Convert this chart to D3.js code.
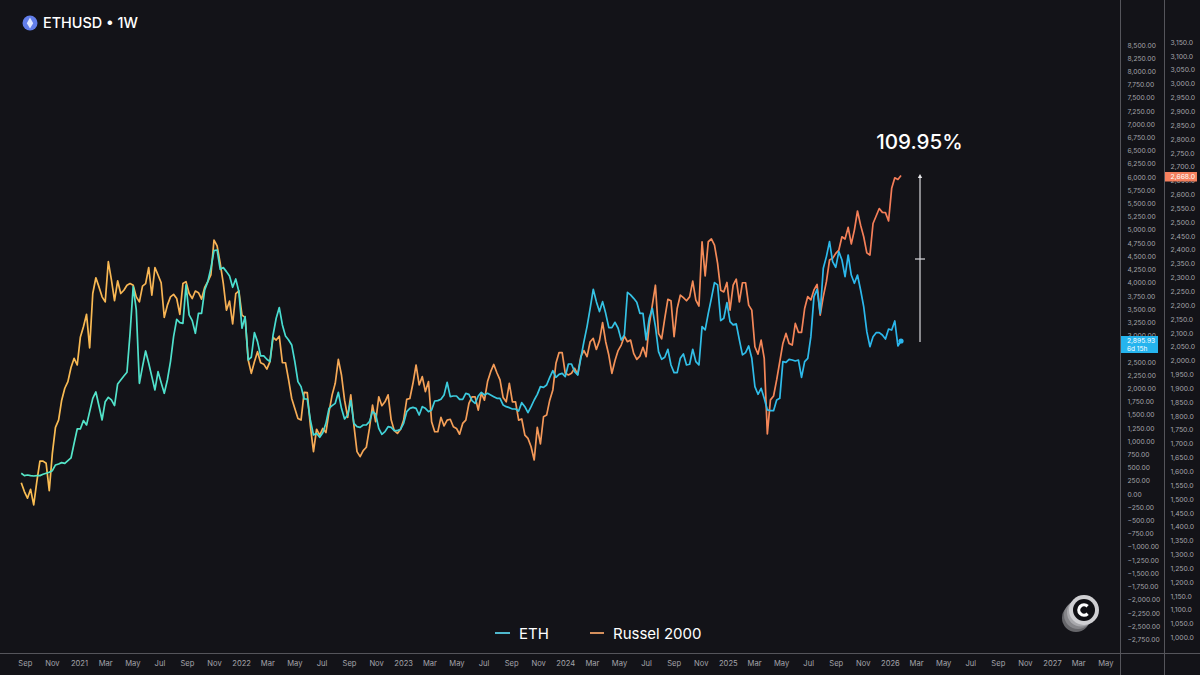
<!DOCTYPE html>
<html><head><meta charset="utf-8">
<script src="https://cdn.jsdelivr.net/npm/d3@7"></script>
<style>
html,body{margin:0;padding:0;background:#131318;overflow:hidden}
text{font-family:Inter,"Open Sans",sans-serif}
</style></head><body><svg id="c" width="1200" height="675"></svg>
<script>
const firstWeek = "2020-08-24";
const ethValues = [
392,348,360,348,341,348,348,373,392,411,442,550,568,594,581,632,682,960,1231,1231,
1389,1307,1559,1811,1931,1666,1401,1748,1830,1780,1673,2083,2158,2234,2304,3042,3925,3484,2095,2411,2707,
2474,2222,1969,2316,2108,1906,2158,2506,2979,3307,3244,3231,3957,3389,3282,3042,3420,3420,3862,4020,
4272,4607,4619,4253,4285,4209,4127,3913,4070,3831,3137,3357,2537,2588,3055,2884,2613,2613,2550,2506,
3010,3326,3528,3200,2991,2916,2821,2506,2127,2032,
1798,1798,1401,1117,1148,1073,1161,1338,1621,1672,1716,1924,1621,1420,1495,1767,1338,1274,1262,1306,
1306,1369,1558,1514,1243,1129,1180,1274,1262,1199,1199,1224,1338,1558,1621,1640,1621,1495,1653,1621,
1558,1590,1760,1767,1792,1874,2114,1842,1855,1855,1792,1792,1905,1886,1767,1716,1855,1924,1874,1905,
1874,1842,1811,1811,1685,1653,1634,1609,1609,1571,1729,1653,1539,1653,1779,1886,2032,2019,2063,2208,
2334,2208,2265,2284,2221,2461,2461,2316,2252,
2569,2884,3168,3515,3875,3641,3452,3641,3420,3149,3149,3250,3137,2916,3010,3818,3768,3704,3629,3420,
3420,2916,3326,3515,3168,2695,2550,2588,2739,2442,2297,2297,2569,2651,2442,2455,2739,2506,2442,3168,
3105,3420,3704,4001,3957,3282,3326,3622,3263,3200,3219,2916,2632,2676,2802,2569,2032,1887,2001,1811,
1591,1577,1577,1779,1811,2505,2492,2549,2536,2517,2536,2208,2505,2568,2978,3735,3874,3420,4272,4493,
4776,4398,4291,4587,4429,4114,4524,4145,3988,4145,3861,3546,3073,2789,2978,3054,3054,3010,2934,3123,
3104,3275,2801,2896
];
const russellValues = [
1559,1527,1503,1535,1479,1563,1637,1637,1629,1530,1665,1759,1785,1857,1900,1924,1975,2008,1984,2084,
2122,2167,2046,2242,2299,2266,2230,2212,2357,2291,2216,2288,2242,2254,2272,2278,2272,2230,2212,2269,
2278,2336,2236,2336,2309,2281,2156,2200,2230,2239,2224,2167,2278,2285,2242,2224,2251,2245,2222,2264,
2285,2309,2435,2414,2351,2278,2182,2215,2132,2242,2252,2164,2156,2002,1954,1996,2032,1992,1987,1969,
1996,2084,2074,2088,1992,1992,1930,1863,1827,1791,1785,
1885,1884,1764,1671,1752,1731,1755,1740,1815,1876,1918,2004,1948,1857,1795,1876,1767,1671,1653,1675,
1687,1755,1839,1779,1869,1837,1851,1876,1785,1747,1737,1752,1785,1860,1863,1918,1984,1912,1942,1888,
1924,1779,1743,1743,1795,1764,1785,1788,1761,1755,1734,1773,1785,1845,1869,1869,1821,1882,1857,1924,
1960,1986,1956,1930,1867,1851,1918,1851,1851,1785,1789,1731,1719,1689,1641,1759,1699,1797,1803,1857,
1894,1990,2029,2029,1954,1948,1954,1972,1950,
2014,2036,2014,2068,2080,2040,2072,2137,2068,2020,1954,2000,2036,2056,2088,2068,2074,2026,2004,2016,
2048,2014,2128,2200,2272,2098,2078,2152,2221,2216,2086,2188,2236,2227,2216,2230,2287,2218,2197,2429,
2306,2429,2439,2417,2351,2254,2248,2282,2182,2272,2294,2212,2281,2281,2200,2182,2050,2023,2074,2008,
1735,1858,1872,1930,1996,2062,2098,2062,2056,2134,2102,2102,2188,2231,2219,2255,2275,2164,2231,2285,
2363,2369,2387,2399,2447,2439,2481,2421,2471,2540,2489,2447,2389,2381,2495,2522,2549,2535,2534,2504,
2622,2660,2654,2668
];
const ethTicks = d3.range(-2750, 8501, 250);
const russellTicks = d3.range(1000, 3151, 50);
const monthLabels = ["2021","Mar","May","Jul","Sep","Nov"];
const axisStart = "2020-09-01", axisEnd = "2027-05-01";
const legendNames = ["ETH","Russel 2000"];
const title = "ETHUSD • 1W";
const gainLabel = "109.95%";
const ethLast = "2,895.93", ethCountdown = "6d 15h", russellLast = "2,668.0";

const svg = d3.select("#c");
const bg = "#131318", axisText = "#a3a3aa", rule = "#55555b";
const parseUTC = d3.utcParse("%Y-%m-%d");
const x = d3.scaleUtc().domain([parseUTC("2021-01-01"), parseUTC("2027-01-01")]).range([79, 1052]);
const yE = d3.scaleLinear().domain([0, 6000]).range([494, 177]);
const yR = d3.scaleLinear().domain([1000, 2700]).range([637.5, 166.7]);
const start = parseUTC(firstWeek);
const dateAt = i => d3.utcDay.offset(start, 7 * i);

svg.append("rect").attr("width",1200).attr("height",675).attr("fill",bg);

const defs = svg.append("defs");
function grad(id, stops){
  const g = defs.append("linearGradient").attr("id",id).attr("gradientUnits","userSpaceOnUse")
    .attr("x1",22).attr("x2",900).attr("y1",0).attr("y2",0);
  stops.forEach(s=>g.append("stop").attr("offset",s[0]).attr("stop-color",s[1]));
}
grad("gE",[[0,"#56e6c6"],[.3,"#48dcd0"],[.55,"#38c6e0"],[1,"#2ab6ee"]]);
grad("gR",[[0,"#f9bd52"],[.3,"#f6ad55"],[.55,"#f39a58"],[1,"#f57c58"]]);

const line = (yS)=>d3.line().x((d,i)=>x(dateAt(i))).y(d=>yS(d));
svg.append("path").datum(russellValues).attr("d",line(yR)).attr("fill","none").attr("stroke","url(#gR)").attr("stroke-width",1.7).attr("stroke-linejoin","round");
svg.append("path").datum(ethValues).attr("d",line(yE)).attr("fill","none").attr("stroke","url(#gE)").attr("stroke-width",1.7).attr("stroke-linejoin","round");
svg.append("circle").attr("cx",x(dateAt(ethValues.length-1))).attr("cy",yE(2896)).attr("r",2.6).attr("fill","#2ab6ee");

// rules
svg.append("line").attr("x1",0).attr("x2",1200).attr("y1",653.5).attr("y2",653.5).attr("stroke",rule);
[1120.5,1164.5].forEach(v=>svg.append("line").attr("x1",v).attr("x2",v).attr("y1",0).attr("y2",675).attr("stroke",rule));

// axes
const styleAxis = (g,size) => { g.select(".domain").remove(); g.selectAll("line").remove();
  g.selectAll("text").attr("fill",axisText).style("font-size",size+"px"); };
svg.append("g").attr("transform","translate(1127.5,0)")
  .call(d3.axisRight(yE).tickValues(ethTicks).tickSize(0).tickPadding(0).tickFormat(d3.format(",.2f"))).call(styleAxis,6.7);
svg.append("g").attr("transform","translate(1170.5,0)")
  .call(d3.axisRight(yR).tickValues(russellTicks).tickSize(0).tickPadding(0).tickFormat(d3.format(",.1f"))).call(styleAxis,6.8);

const xTicks = d3.utcMonth.range(parseUTC(axisStart), d3.utcDay.offset(parseUTC(axisEnd),1), 2);
const xFmt = d => d.getUTCMonth()===0 ? d3.utcFormat("%Y")(d) : monthLabels[d.getUTCMonth()/2];
svg.append("g").attr("transform","translate(0,661)")
  .call(d3.axisBottom(x).tickValues(xTicks).tickSize(0).tickPadding(0).tickFormat(xFmt)).call(styleAxis,7.6);

// badges
function badge(xp,yp,w,h,fill){ svg.append("rect").attr("x",xp).attr("y",yp).attr("width",w).attr("height",h).attr("fill",fill); }
badge(1121,336,37,17,"#25b4ee");
svg.append("text").attr("x",1127).attr("y",343).attr("fill","#fff").style("font-size","6.7px").text(ethLast);
svg.append("text").attr("x",1127).attr("y",351).attr("fill","#fff").style("font-size","6.5px").text(ethCountdown);
badge(1165,172,32,9.5,"#f5805e");
svg.append("text").attr("x",1170.5).attr("y",179.3).attr("fill","#fff").style("font-size","6.8px").text(russellLast);

// arrow
const arrow = svg.append("g").attr("stroke","#d8d8dc").attr("stroke-width",1.2).attr("fill","none");
arrow.append("line").attr("x1",920).attr("x2",920).attr("y1",342).attr("y2",176);
arrow.append("line").attr("x1",915).attr("x2",925).attr("y1",259).attr("y2",259);
svg.append("path").attr("d",d3.line()([[920,174],[917.8,178],[922.2,178]])).attr("fill","#e8e8ea");
svg.append("text").attr("x",919.5).attr("y",149).attr("text-anchor","middle").attr("fill","#fff")
  .style("font-size","20.6px").style("font-weight",500).text(gainLabel);

// header
svg.append("circle").attr("cx",30).attr("cy",23).attr("r",7.5).attr("fill","#627eea");
svg.append("path").attr("d",d3.line()([[30,17.5],[33.2,23.2],[30,28.5],[26.8,23.2]])).attr("fill","#dfe6ff");
svg.append("text").attr("x",43).attr("y",27.8).attr("fill","#fff").style("font-size","14.4px").style("font-weight",500).text(title);

// legend
svg.append("line").attr("x1",495).attr("x2",510).attr("y1",633).attr("y2",633).attr("stroke","#4fb8cc").attr("stroke-width",2);
svg.append("line").attr("x1",590).attr("x2",604).attr("y1",633).attr("y2",633).attr("stroke","#d48f5c").attr("stroke-width",2);
svg.append("text").attr("x",519).attr("y",638.5).attr("fill","#fff").style("font-size","15px").text(legendNames[0]);
svg.append("text").attr("x",613).attr("y",638.5).attr("fill","#fff").style("font-size","15px").text(legendNames[1]);

// logo
[[1076,618,14,"#66666a"],[1078,615,14,"#86868a"],[1081,612.5,14,"#a8a8ac"],[1084,610,15,"#cfcfd2"]].forEach(c=>
  svg.append("circle").attr("cx",c[0]).attr("cy",c[1]).attr("r",c[2]).attr("fill",c[3]));
svg.append("circle").attr("cx",1084).attr("cy",610).attr("r",11).attr("fill","#101014");
svg.append("path").attr("transform","translate(1084,610)").attr("fill","#fff")
  .attr("d",d3.arc()({innerRadius:3.6,outerRadius:6.8,startAngle:Math.PI/2+0.8,endAngle:Math.PI/2+2*Math.PI-0.8}));
</script></body></html>
